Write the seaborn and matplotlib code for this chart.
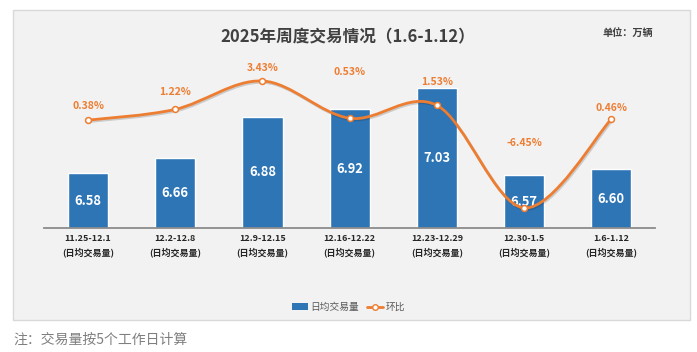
import numpy as np
import pandas as pd
import seaborn as sns
import matplotlib.pyplot as plt
import matplotlib.patheffects as pe
from matplotlib.path import Path
from matplotlib.patches import PathPatch, Rectangle, Patch
from matplotlib.lines import Line2D

# 数据
weeks = ['11.25-12.1', '12.2-12.8', '12.9-12.15', '12.16-12.22',
         '12.23-12.29', '12.30-1.5', '1.6-1.12']
daily_volume = [6.58, 6.66, 6.88, 6.92, 7.03, 6.57, 6.60]   # 万辆
mom_change = [0.38, 1.22, 3.43, 0.53, 1.53, -6.45, 0.46]    # 环比 %

# 百分比标签离点的距离（像素）
label_offsets = [14, 17, 13, 46, 23, 65, 11]

BLUE = '#2E75B6'
ORANGE = '#ED7D31'

sns.set_theme(style='white')
plt.rcParams['font.family'] = ['Noto Sans CJK SC', 'DejaVu Sans']

fig = plt.figure(figsize=(6.97, 3.52), dpi=100)
fig.patch.set_facecolor('white')
# 灰色底板
fig.patches.append(Rectangle((13 / 697, 1 - 320 / 352), 677 / 697, 310 / 352,
                             transform=fig.transFigure, facecolor='#F2F2F2',
                             edgecolor='#D9D9D9', lw=1, zorder=-10))

ax = fig.add_axes([0.0637, 0.352, 0.876, 0.449])
ax.patch.set_visible(False)
df = pd.DataFrame({'week': weeks, 'volume': daily_volume, 'mom': mom_change})
sns.barplot(data=df, x='week', y='volume', color=BLUE, width=0.46,
            saturation=1, ax=ax)
ymin = 6.29
ax.set_ylim(ymin, 7.126)
ax.set_xlim(-0.5, len(weeks) - 0.5)
for i, v in enumerate(daily_volume):
    ax.text(i, (ymin + v) / 2, '%.2f' % v, ha='center', va='center',
            color='white', fontsize=9.3, fontweight='bold')

ax.set_xticks(range(len(weeks)))
ax.set_xticklabels(['%s\n(日均交易量)' % w for w in weeks], fontsize=6.5,
                   fontweight='bold', color='#262626', linespacing=1.55)
ax.tick_params(axis='x', length=0, pad=4)
ax.set_yticks([])
ax.set_xlabel('')
ax.set_ylabel('')
for s in ['top', 'left', 'right']:
    ax.spines[s].set_visible(False)
ax.spines['bottom'].set_color('#8C8C8C')
ax.spines['bottom'].set_linewidth(1.3)

# 环比 - 平滑曲线
ax2 = ax.twinx()
ax2.set_ylim(-8.02, 4.28)
pts = np.column_stack([np.arange(len(mom_change)), mom_change]).astype(float)
verts = [pts[0]]
codes = [Path.MOVETO]
n = len(pts)
for i in range(n - 1):
    p0 = pts[i - 1] if i > 0 else pts[i]
    p1, p2 = pts[i], pts[i + 1]
    p3 = pts[i + 2] if i + 2 < n else pts[i + 1]
    verts += [p1 + (p2 - p0) / 6, p2 - (p3 - p1) / 6, p2]
    codes += [Path.CURVE4] * 3
curve = PathPatch(Path(verts, codes), facecolor='none', edgecolor=ORANGE,
                  lw=2.0, zorder=3)
curve.set_path_effects([pe.SimpleLineShadow(offset=(0.8, -1.0), shadow_color='k',
                                            alpha=0.18), pe.Normal()])
ax2.add_patch(curve)
sns.scatterplot(x=list(range(n)), y=mom_change, ax=ax2, color='white',
                edgecolor=ORANGE, s=18, linewidth=1.1, zorder=5)
for i, v in enumerate(mom_change):
    ax2.annotate('%.2f%%' % v, (i, v), xytext=(0, label_offsets[i]),
                 textcoords='offset pixels', ha='center', va='center',
                 color=ORANGE, fontsize=7.5, fontweight='bold')
ax2.set_yticks([])
ax2.set_ylabel('')
for s in ax2.spines.values():
    s.set_visible(False)

# 标题与单位
fig.text(0.499, 1 - 37 / 352, '2025年周度交易情况（1.6-1.12）', ha='center',
         va='center', fontsize=12, fontweight='bold', color='#404040')
fig.text(628 / 697, 1 - 33 / 352, '单位：万辆', ha='center', va='center',
         fontsize=7.3, fontweight='bold', color='#404040')

# 图例
handles = [Patch(facecolor=BLUE, edgecolor='none'),
           Line2D([], [], color=ORANGE, lw=2, marker='o', markersize=4,
                  markerfacecolor='white', markeredgecolor=ORANGE)]
fig.legend(handles, ['日均交易量', '环比'], loc='center', ncol=2,
           bbox_to_anchor=(0.5, 1 - 307 / 352), frameon=False, fontsize=7,
           handlelength=1.6, handleheight=0.6, columnspacing=0.8,
           handletextpad=0.3, labelcolor='#595959')

# 注释
fig.text(13 / 697, 1 - 340 / 352, '注：交易量按5个工作日计算', ha='left',
         va='center', fontsize=10, color='#7F7F7F')

fig.savefig('out.png', dpi=100)
